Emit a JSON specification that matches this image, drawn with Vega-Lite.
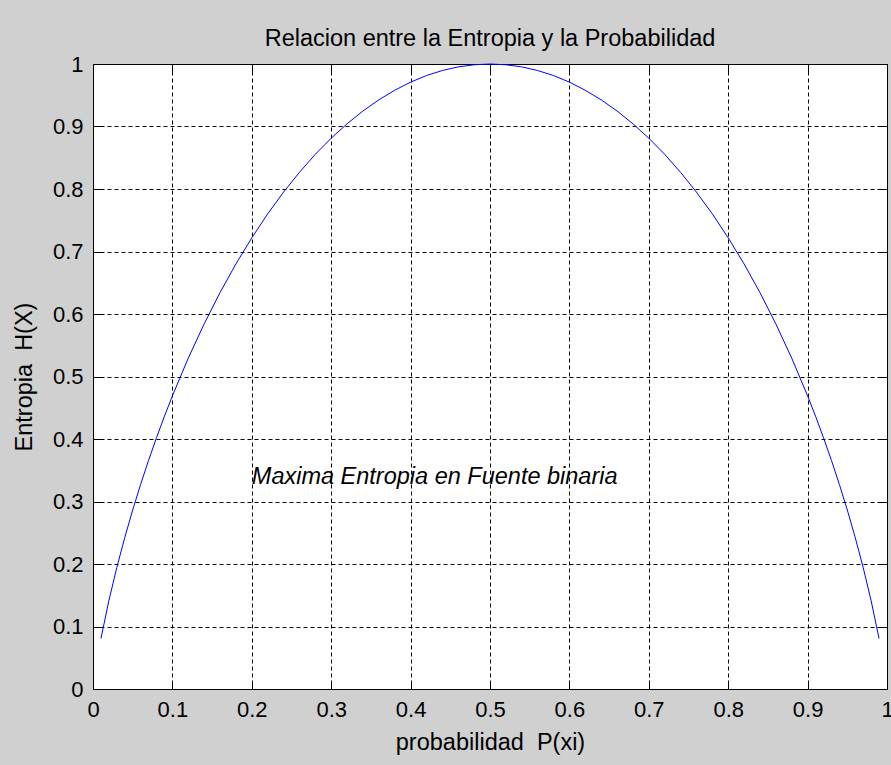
{
  "$schema": "https://vega.github.io/schema/vega-lite/v6.json",
  "width": 794,
  "height": 625,
  "autosize": {"type": "none"},
  "padding": {"left": 93, "top": 64, "right": 4, "bottom": 76},
  "background": "#d0d0d0",
  "title": {
    "text": "Relacion entre la Entropia y la Probabilidad",
    "font": "Liberation Sans",
    "fontSize": 23.5,
    "fontWeight": "normal",
    "color": "black",
    "anchor": "middle",
    "baseline": "alphabetic",
    "offset": -16
  },
  "config": {
    "view": {"fill": "white", "stroke": "black", "strokeWidth": 1},
    "axis": {
      "domainColor": "black",
      "domainWidth": 1,
      "tickColor": "black",
      "tickWidth": 1,
      "tickSize": -8,
      "labelFont": "Liberation Sans",
      "labelFontSize": 22,
      "labelColor": "black",
      "labelFlush": false,
      "labelOverlap": false,
      "labelBound": false,
      "titleFont": "Liberation Sans",
      "titleFontSize": 23.5,
      "titleFontWeight": "normal",
      "titleColor": "black"
    }
  },
  "resolve": {"axis": {"x": "independent", "y": "independent"}},
  "layer": [
    {
      "data": {
        "values": [
          {"p": 0.01, "h": 0.0808}, {"p": 0.02, "h": 0.1414}, {"p": 0.03, "h": 0.1944},
          {"p": 0.04, "h": 0.2423}, {"p": 0.05, "h": 0.2864}, {"p": 0.06, "h": 0.3274},
          {"p": 0.07, "h": 0.3659}, {"p": 0.08, "h": 0.4022}, {"p": 0.09, "h": 0.4365},
          {"p": 0.10, "h": 0.4690}, {"p": 0.12, "h": 0.5294}, {"p": 0.14, "h": 0.5842},
          {"p": 0.16, "h": 0.6343}, {"p": 0.18, "h": 0.6801}, {"p": 0.20, "h": 0.7219},
          {"p": 0.22, "h": 0.7602}, {"p": 0.24, "h": 0.7950}, {"p": 0.26, "h": 0.8267},
          {"p": 0.28, "h": 0.8555}, {"p": 0.30, "h": 0.8813}, {"p": 0.32, "h": 0.9044},
          {"p": 0.34, "h": 0.9248}, {"p": 0.36, "h": 0.9427}, {"p": 0.38, "h": 0.9580},
          {"p": 0.40, "h": 0.9710}, {"p": 0.42, "h": 0.9815}, {"p": 0.44, "h": 0.9896},
          {"p": 0.46, "h": 0.9954}, {"p": 0.48, "h": 0.9988}, {"p": 0.50, "h": 1.0},
          {"p": 0.52, "h": 0.9988}, {"p": 0.54, "h": 0.9954}, {"p": 0.56, "h": 0.9896},
          {"p": 0.58, "h": 0.9815}, {"p": 0.60, "h": 0.9710}, {"p": 0.62, "h": 0.9580},
          {"p": 0.64, "h": 0.9427}, {"p": 0.66, "h": 0.9248}, {"p": 0.68, "h": 0.9044},
          {"p": 0.70, "h": 0.8813}, {"p": 0.72, "h": 0.8555}, {"p": 0.74, "h": 0.8267},
          {"p": 0.76, "h": 0.7950}, {"p": 0.78, "h": 0.7602}, {"p": 0.80, "h": 0.7219},
          {"p": 0.82, "h": 0.6801}, {"p": 0.84, "h": 0.6343}, {"p": 0.86, "h": 0.5842},
          {"p": 0.88, "h": 0.5294}, {"p": 0.90, "h": 0.4690}, {"p": 0.91, "h": 0.4365},
          {"p": 0.92, "h": 0.4022}, {"p": 0.93, "h": 0.3659}, {"p": 0.94, "h": 0.3274},
          {"p": 0.95, "h": 0.2864}, {"p": 0.96, "h": 0.2423}, {"p": 0.97, "h": 0.1944},
          {"p": 0.98, "h": 0.1414}, {"p": 0.99, "h": 0.0808}
        ]
      },
      "mark": {"type": "line", "color": "#0000ff", "strokeWidth": 1, "interpolate": "linear"},
      "encoding": {
        "x": {
          "field": "p", "type": "quantitative",
          "scale": {"domain": [0, 1], "nice": false, "zero": false},
          "axis": {
            "orient": "bottom",
            "values": [0, 0.1, 0.2, 0.3, 0.4, 0.5, 0.6, 0.7, 0.8, 0.9, 1],
            "format": "~g",
            "grid": true, "gridColor": "black", "gridDash": [4, 3], "gridOpacity": 1, "gridWidth": 1,
            "labelPadding": 18,
            "title": "probabilidad\u00a0 P(xi)",
            "titleY": 60,
            "titleBaseline": "alphabetic"
          }
        },
        "y": {
          "field": "h", "type": "quantitative",
          "scale": {"domain": [0, 1], "nice": false, "zero": false},
          "axis": {
            "orient": "left",
            "values": [0, 0.1, 0.2, 0.3, 0.4, 0.5, 0.6, 0.7, 0.8, 0.9, 1],
            "format": "~g",
            "grid": true, "gridColor": "black", "gridDash": [4, 3], "gridOpacity": 1, "gridWidth": 1,
            "labelPadding": 18,
            "title": "Entropia\u00a0 H(X)",
            "titleX": -62,
            "titleBaseline": "alphabetic"
          }
        }
      }
    },
    {
      "data": {"values": [{"x": 0.2, "y": 0.34, "label": "Maxima Entropia en Fuente binaria"}]},
      "mark": {"type": "text", "align": "left", "baseline": "middle", "font": "Liberation Sans", "fontSize": 23.5, "fontStyle": "italic", "color": "black"},
      "encoding": {
        "x": {
          "field": "x", "type": "quantitative",
          "scale": {"domain": [0, 1], "nice": false, "zero": false},
          "axis": {
            "orient": "top",
            "values": [0, 0.1, 0.2, 0.3, 0.4, 0.5, 0.6, 0.7, 0.8, 0.9, 1],
            "labels": false, "grid": false, "title": null,
            "minExtent": 0, "maxExtent": 0
          }
        },
        "y": {
          "field": "y", "type": "quantitative",
          "scale": {"domain": [0, 1], "nice": false, "zero": false},
          "axis": {
            "orient": "right",
            "values": [0, 0.1, 0.2, 0.3, 0.4, 0.5, 0.6, 0.7, 0.8, 0.9, 1],
            "labels": false, "grid": false, "title": null,
            "minExtent": 0, "maxExtent": 0
          }
        },
        "text": {"field": "label"}
      }
    }
  ]
}
